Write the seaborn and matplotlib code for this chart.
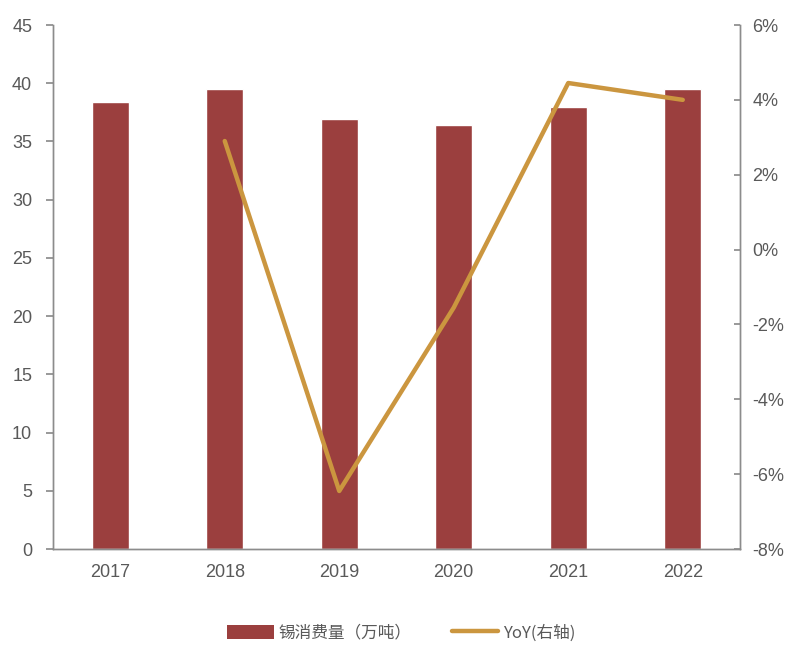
import matplotlib
matplotlib.use("Agg")
import matplotlib.pyplot as plt
import seaborn as sns
import numpy as np
from matplotlib.ticker import FuncFormatter, FixedLocator
from matplotlib.patches import Patch
from matplotlib.lines import Line2D

years = ["2017", "2018", "2019", "2020", "2021", "2022"]
consumption = [38.4, 39.5, 36.9, 36.4, 38.0, 39.5]
yoy_years = ["2018", "2019", "2020", "2021", "2022"]
yoy = [2.9, -6.45, -1.55, 4.45, 4.0]
bar_label = "锡消费量（万吨）"
line_label = "YoY(右轴)"

bar_color = "#9B3F3E"
line_color = "#CB963F"
axis_color = "#8C8C8C"
text_color = "#595959"

sns.set_theme(style="white")
plt.rcParams["font.family"] = ["Liberation Sans", "Noto Sans CJK SC", "DejaVu Sans"]

fig = plt.figure(figsize=(7.87, 6.45), dpi=100)
ax = fig.add_axes([53/787, 1-549/645, (740-53)/787, (549-25)/645])

sns.barplot(x=years, y=consumption, color=bar_color, width=0.32, ax=ax, saturation=1)
ax.set_xlim(-0.5, 5.5)
ax.set_ylim(0, 45)
ax.set_yticks(np.arange(0, 46, 5))

ax2 = ax.twinx()
sns.lineplot(x=yoy_years, y=yoy, color=line_color, linewidth=3.2, ax=ax2, sort=False)
ax2.set_ylim(-8, 6)
ax2.set_yticks(np.arange(-8, 7, 2))
ax2.yaxis.set_major_formatter(FuncFormatter(lambda v, p: f"{v:.0f}%"))
ax.set_xlim(-0.5, 5.5)

for a in (ax, ax2):
    a.spines["top"].set_visible(False)
    for s in ["left", "right", "bottom"]:
        a.spines[s].set_color(axis_color)
        a.spines[s].set_linewidth(1.0)
    a.set_xlabel("")
    a.set_ylabel("")

ax.tick_params(axis="y", direction="out", length=5, color=axis_color, labelcolor=text_color, labelsize=13, pad=10)
ax2.tick_params(axis="y", direction="in", length=4, color=axis_color, labelcolor=text_color, labelsize=13, pad=9)
ax.tick_params(axis="x", which="major", length=0, labelcolor=text_color, labelsize=13, pad=11)
ax.xaxis.set_minor_locator(FixedLocator(np.arange(-0.5, 5.6, 1.0)))
ax.tick_params(axis="x", which="minor", direction="out", length=5, color=axis_color)

handles = [Patch(facecolor=bar_color, edgecolor="none"),
           Line2D([0], [0], color=line_color, linewidth=3.2)]
leg = fig.legend(handles, [bar_label, line_label], loc="center", bbox_to_anchor=(0.51, 1-633/645),
                 ncol=2, frameon=False, fontsize=12, handlelength=2.8, handleheight=0.9,
                 columnspacing=2.4, handletextpad=0.3,
                 prop={"family": ["Noto Sans CJK SC", "DejaVu Sans"], "size": 12})
for t in leg.get_texts():
    t.set_color(text_color)

fig.savefig("out.png", dpi=100)
